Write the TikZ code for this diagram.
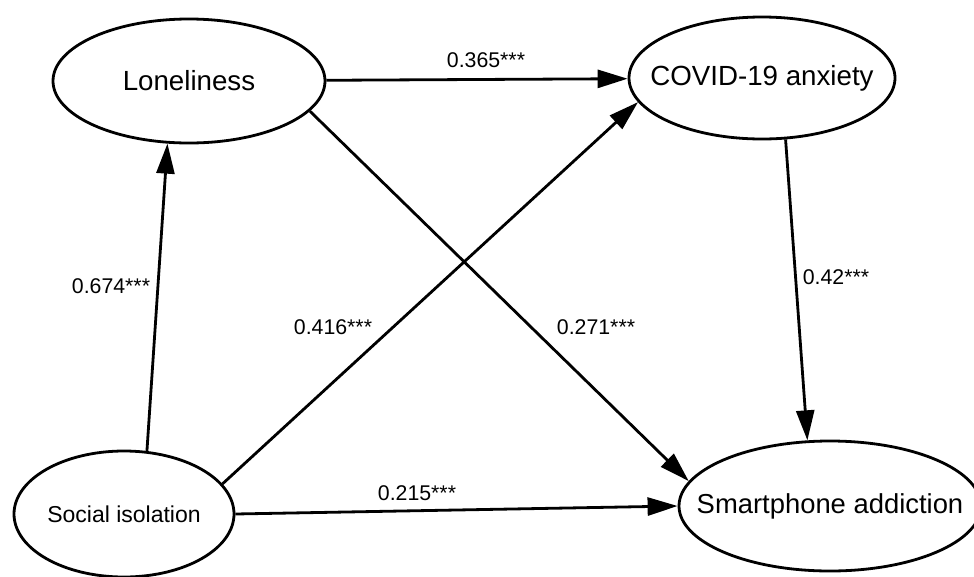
\documentclass[tikz,border=0pt]{standalone}
\usepackage{fontspec}
\setmainfont{Liberation Sans}
\usetikzlibrary{shapes.geometric,arrows.meta}

\tikzset{
  latent/.style={ellipse,draw,line width=2.8pt,inner xsep=-90pt,inner ysep=0pt,font=\fontsize{27.7}{32}\selectfont},
  path/.style={line width=2.8pt,-{Triangle[length=30pt,width=18pt]}},
  coef/.style={inner sep=0pt,font=\fontsize{21.3}{25}\selectfont}
}

\begin{document}
\begin{tikzpicture}[x=1pt,y=-1pt]
  \useasboundingbox (0,0) rectangle (974,576);
  % constructs
  \node[latent,minimum width=272pt,minimum height=124pt] (lon) at (189,81) {Loneliness};
  \node[latent,minimum width=266pt,minimum height=122pt] (cov) at (762,78) {COVID-19 anxiety};
  \node[latent,minimum width=220pt,minimum height=126pt,font=\fontsize{23}{27}\selectfont] (soc) at (124,514) {Social isolation};
  \node[latent,minimum width=302pt,minimum height=130pt,font=\fontsize{27.4}{31}\selectfont] (sma) at (830,506) {Smartphone addiction};
  % paths
  \draw[path] (soc.70) -- (lon.251);
  \draw[path] (lon) -- (cov);
  \draw[path] (lon.-14) -- (sma.170);
  \draw[path] (soc.17) -- (cov.191);
  \draw[path] (soc.east) -- (sma.west);
  \draw[path] (cov.-69) -- (sma.109);
  % coefficients
  \node[coef] (c1) at (486,60) {0.365***};
  \node[coef] (c2) at (111,286) {0.674***};
  \node[coef] (c3) at (333,327) {0.416***};
  \node[coef] (c4) at (596,327) {0.271***};
  \node[coef] (c5) at (836,277) {0.42***};
  \node[coef] (c6) at (417,493) {0.215***};
\end{tikzpicture}
\end{document}
